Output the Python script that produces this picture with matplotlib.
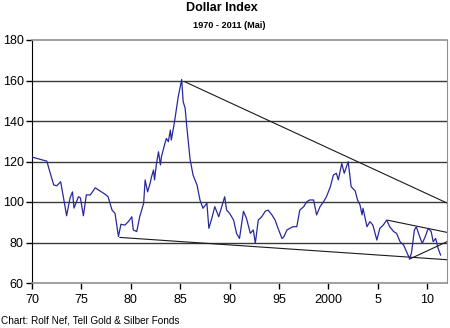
import matplotlib.pyplot as plt

plt.rcParams['font.family'] = ['Liberation Sans', 'DejaVu Sans']

# Dollar index, sampled turning points 1970 - May 2011
years = [1970.0, 1970.5, 1971.1, 1971.5, 1971.8, 1972.2, 1972.5, 1972.9, 1973.2, 1973.5,
         1973.85, 1974.1, 1974.25, 1974.7, 1974.9, 1975.2, 1975.5, 1975.9, 1976.4, 1976.9,
         1977.4, 1977.7, 1978.1, 1978.4, 1978.75, 1979.0, 1979.4, 1979.75, 1980.1, 1980.25,
         1980.6, 1980.9, 1981.3, 1981.45, 1981.7, 1981.95, 1982.1, 1982.3, 1982.4, 1982.6,
         1982.8, 1983.0, 1983.1, 1983.5, 1983.6, 1983.8, 1984.0, 1984.1, 1984.4, 1984.65,
         1984.8, 1985.0, 1985.15, 1985.3, 1985.5, 1985.65, 1986.0, 1986.3, 1986.7, 1987.0,
         1987.3, 1987.7, 1987.9, 1988.2, 1988.5, 1988.9, 1989.2, 1989.5, 1989.7, 1990.0,
         1990.4, 1990.7, 1991.0, 1991.4, 1991.7, 1992.1, 1992.4, 1992.6, 1992.9, 1993.25,
         1993.6, 1993.9, 1994.3, 1994.6, 1994.9, 1995.3, 1995.5, 1995.8, 1996.1, 1996.4,
         1996.8, 1997.1, 1997.5, 1997.8, 1998.1, 1998.5, 1998.8, 1999.15, 1999.5, 1999.8,
         2000.2, 2000.5, 2000.8, 2001.0, 2001.35, 2001.6, 2002.0, 2002.3, 2002.7, 2002.95,
         2003.2, 2003.4, 2003.5, 2003.9, 2004.2, 2004.5, 2004.9, 2005.2, 2005.55, 2005.9,
         2006.2, 2006.6, 2006.9, 2007.25, 2007.6, 2007.9, 2008.2, 2008.4, 2008.7, 2008.9,
         2009.0, 2009.3, 2009.5, 2009.8, 2010.1, 2010.4, 2010.6, 2010.85, 2011.1, 2011.35]
index = [122.2, 121.5, 120.7, 120.2, 115.0, 108.4, 108.0, 110.0, 101.8, 93.2,
         102.0, 105.0, 97.0, 102.6, 102.0, 93.2, 103.5, 103.5, 107.0, 105.4,
         103.8, 102.6, 96.0, 94.4, 83.0, 89.0, 88.6, 90.3, 92.7, 86.2,
         85.4, 92.7, 99.4, 110.9, 105.0, 109.2, 112.5, 115.8, 110.9, 119.0,
         124.8, 118.3, 122.4, 129.8, 131.4, 129.8, 135.5, 130.6, 138.9, 147.0,
         152.0, 156.9, 160.5, 149.5, 146.3, 138.0, 121.0, 113.3, 108.4, 101.0,
         96.9, 99.4, 87.0, 92.0, 97.7, 92.7, 97.7, 102.6, 96.0, 94.4,
         91.1, 84.5, 82.0, 95.4, 92.0, 84.5, 86.2, 79.6, 91.1, 92.7,
         95.4, 96.0, 93.5, 91.1, 87.0, 82.0, 82.9, 86.2, 87.0, 87.8,
         87.8, 96.0, 97.7, 100.1, 101.0, 101.0, 93.6, 97.7, 100.1, 102.6,
         107.6, 113.3, 114.2, 110.9, 119.1, 114.2, 119.9, 107.6, 105.5, 101.0,
         98.5, 93.6, 96.9, 87.8, 90.3, 88.6, 81.2, 87.0, 88.6, 91.1,
         87.8, 85.4, 84.5, 80.4, 78.8, 75.5, 72.2, 74.7, 86.2, 87.8,
         86.2, 82.0, 79.6, 82.9, 87.0, 85.4, 80.4, 82.0, 77.1, 73.8]

# trend lines: (x0, x1), (y0, y1)
trend_x = [(1985.5, 2012.0), (1978.9, 2012.0), (2006.0, 2012.0), (2008.2, 2012.0)]
trend_y = [(159.3, 99.5), (82.5, 71.5), (91.0, 85.0), (71.8, 80.4)]

x_ticks = [1970, 1975, 1980, 1985, 1990, 1995, 2000, 2005, 2010]
x_labels = ['70', '75', '80', '85', '90', '95', '2000', '5', '10']
y_ticks = [60, 80, 100, 120, 140, 160, 180]

fig = plt.figure(figsize=(4.5, 3.28), dpi=100)
ax = fig.add_axes([32 / 450, 45 / 328, 415 / 450, 243 / 328])

for v in y_ticks[1:-1]:
    ax.axhline(v, color='#3a3a3a', lw=1.0, zorder=1)

ax.plot(years, index, color='#2828a0', lw=0.9, zorder=3)
for tx, ty in zip(trend_x, trend_y):
    ax.plot(tx, ty, color='#1a1a1a', lw=0.8, zorder=2)

ax.set_xlim(1970, 2012)
ax.set_ylim(60, 180)
ax.set_xticks(x_ticks)
ax.set_xticklabels(x_labels)
ax.set_yticks(y_ticks)
ax.tick_params(axis='both', labelsize=9, length=4, width=1, direction='out', pad=2)
ax.tick_params(axis='x', pad=4)

ax.spines['left'].set_color('black')
for s in ['top', 'right', 'bottom']:
    ax.spines[s].set_color('#909090')
ax.spines['bottom'].set_linewidth(1.2)
ax.spines['top'].set_linewidth(1.2)

fig.text(0.493, 0.976, 'Dollar Index', ha='center', va='center', fontsize=9, fontweight='bold')
fig.text(0.51, 0.922, '1970 - 2011 (Mai)', ha='center', va='center', fontsize=6.6, fontweight='bold')
fig.text(0.002, 0.022, 'Chart: Rolf Nef, Tell Gold & Silber Fonds', ha='left', va='center', fontsize=7.2)

fig.savefig('out.png', dpi=100)
